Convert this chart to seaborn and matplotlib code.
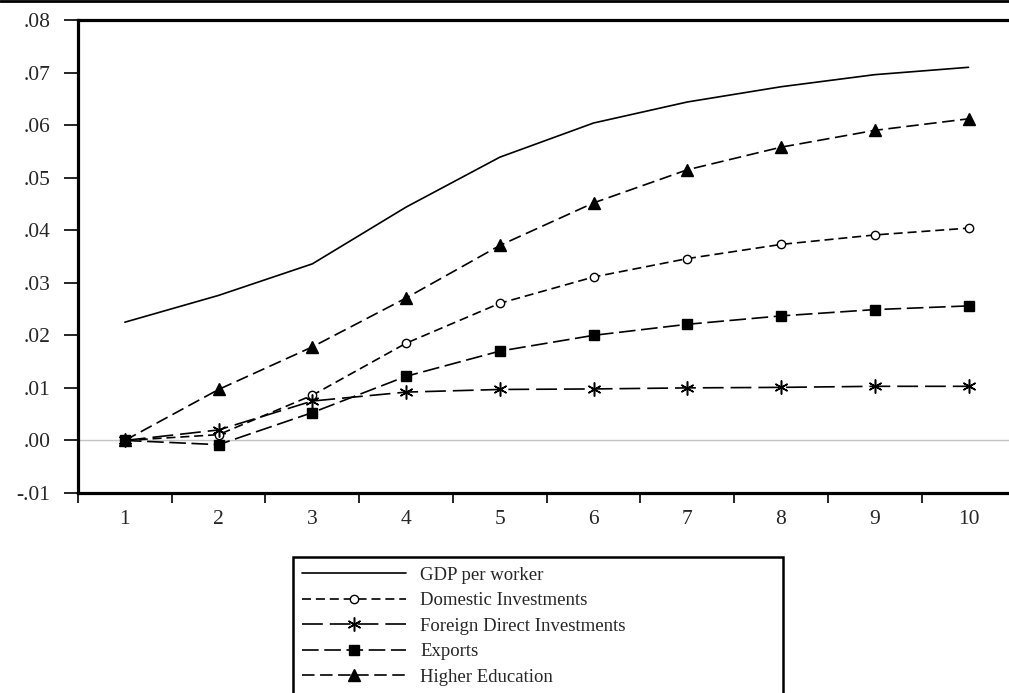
import numpy as np
import pandas as pd
import seaborn as sns
import matplotlib
matplotlib.use("Agg")
from matplotlib import pyplot as plt
from matplotlib.lines import Line2D

periods = [1, 2, 3, 4, 5, 6, 7, 8, 9, 10]
gdp = [0.0225, 0.0276, 0.0336, 0.0444, 0.0539, 0.0604, 0.0644, 0.0673, 0.0696, 0.0710]
domestic = [0.0, 0.0011, 0.0086, 0.0185, 0.0261, 0.0311, 0.0346, 0.0373, 0.0391, 0.0404]
fdi = [0.0, 0.0020, 0.0075, 0.0092, 0.0097, 0.0098, 0.0100, 0.0101, 0.0103, 0.0103]
exports = [0.0, -0.0008, 0.0053, 0.0122, 0.0170, 0.0200, 0.0221, 0.0237, 0.0249, 0.0256]
higher_ed = [0.0, 0.0097, 0.0178, 0.0271, 0.0371, 0.0452, 0.0515, 0.0558, 0.0590, 0.0612]

names = ["GDP per worker", "Domestic Investments", "Foreign Direct Investments",
         "Exports", "Higher Education"]
yticks = [-0.01, 0.0, 0.01, 0.02, 0.03, 0.04, 0.05, 0.06, 0.07, 0.08]
ytick_labels = ["-.01", ".00", ".01", ".02", ".03", ".04", ".05", ".06", ".07", ".08"]

sns.set_style("ticks")
plt.rcParams["font.family"] = ["Liberation Serif", "DejaVu Serif"]
plt.rcParams["lines.scale_dashes"] = False

fig = plt.figure(figsize=(10.09, 6.93), dpi=100)
ax = fig.add_axes([78 / 1009, 1 - 493 / 693, 937.4 / 1009, 473 / 693])

ax.axhline(0, color="#c4c4c4", lw=1.0, zorder=1)

styles = {
    "GDP per worker": dict(linestyle="-", marker=None),
    "Domestic Investments": dict(linestyle=(0, (6.5, 3.5)), marker="o", markersize=6,
                                 markerfacecolor="white"),
    "Foreign Direct Investments": dict(linestyle=(0, (15, 5)), marker=(6, 2, 0), markersize=10,
                                       markeredgewidth=1.1),
    "Exports": dict(linestyle=(0, (12, 4)), marker="s", markersize=7,
                    markerfacecolor="black"),
    "Higher Education": dict(linestyle=(0, (9, 4)), marker="^", markersize=8.5,
                             markerfacecolor="black"),
}
series = [gdp, domestic, fdi, exports, higher_ed]

for name, vals in zip(names, series):
    df = pd.DataFrame({"period": periods, "value": vals})
    kw = dict(styles[name])
    kw.setdefault("markeredgewidth", 1.0)
    sns.lineplot(data=df, x="period", y="value", ax=ax, color="black", lw=1.2,
                 markeredgecolor="black", label=name, zorder=3, **kw)

ax.set_xlim(0.5, 10.5)
ax.set_ylim(-0.01, 0.08)
ax.set_xlabel("")
ax.set_ylabel("")

ax.set_xticks(periods)
ax.set_xticklabels([str(p) for p in periods])
ax.set_xticks(np.arange(0.5, 10.6, 1.0), minor=True)
ax.tick_params(axis="x", which="major", length=0, pad=12, labelsize=15.5)
ax.tick_params(axis="x", which="minor", length=7, width=1.2, direction="out", color="black")
ax.set_yticks(yticks)
ax.set_yticklabels(ytick_labels)
ax.tick_params(axis="y", length=10, width=1.2, pad=10, labelsize=15.5, color="black")

for side in ["left", "bottom", "top"]:
    ax.spines[side].set_linewidth(2.3)
    ax.spines[side].set_color("black")
ax.spines["right"].set_visible(False)

leg = ax.legend(loc="upper left", bbox_to_anchor=(293 / 1009, -0.05, 490 / 1009, 1 - 557 / 693 + 0.05),
                bbox_transform=fig.transFigure, mode="expand", frameon=True, fancybox=False,
                edgecolor="black", framealpha=1, fontsize=13.5, handlelength=5.5,
                handletextpad=0.8, labelspacing=0.45, borderaxespad=0, borderpad=0.5)
leg.get_frame().set_linewidth(1.8)

fig.add_artist(Line2D([0, 1], [0.998, 0.998], transform=fig.transFigure, color="black", lw=2))

fig.savefig("out.png", dpi=100)
